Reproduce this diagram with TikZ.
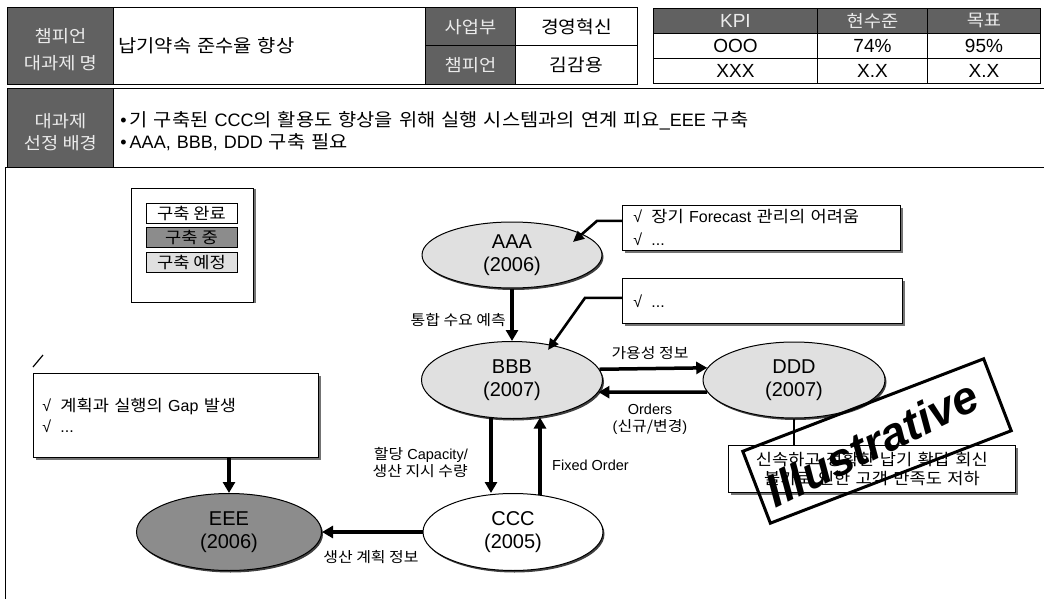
\documentclass[tikz,border=0pt]{standalone}
\usepackage{fontspec}
\setmainfont{Liberation Sans}
\newfontfamily\kr{Noto Sans CJK KR}[FakeStretch=1.1]
\usetikzlibrary{shapes.geometric,arrows.meta,shadows,calc}
\newcommand\K[1]{{\kr #1}}
\newcommand\chk{\makebox[18pt][l]{√}}
\newcommand\lowstrut{\rule{0pt}{22pt}}
\begin{document}
\begin{tikzpicture}[x=1pt,y=-1pt,
  hdr/.style={draw=black, line width=0.9pt, fill=black!62, text=white!92!black, align=center, inner sep=0pt, anchor=north west, font=\kr\fontsize{17}{26}\selectfont},
  cellw/.style={draw=black, line width=0.9pt, fill=white, align=center, inner sep=0pt, anchor=north west, font=\kr\fontsize{17.5}{22}\selectfont},
  kcell/.style={draw=black, line width=0.9pt, fill=white, align=center, inner sep=0pt, anchor=north west, minimum height=25pt, font=\fontsize{19}{20}\selectfont},
  ell/.style={ellipse, draw=black, line width=1pt, align=center, inner sep=0pt, font=\fontsize{20}{23}\selectfont,
    drop shadow={shadow xshift=1.5pt, shadow yshift=-2pt, fill=black!75, opacity=1}},
  note/.style={rectangle, draw=black, line width=0.8pt, fill=white, anchor=north west, align=left, inner ysep=1pt,
    font=\fontsize{16}{23}\selectfont,
    drop shadow={shadow xshift=2.5pt, shadow yshift=-2.5pt, fill=black!55, opacity=1}},
  legbox/.style={rectangle, draw=black, line width=0.8pt, minimum width=91pt, minimum height=20pt, inner sep=0pt, font=\kr\fontsize{16}{18}\selectfont},
  lbl/.style={inner sep=0pt, align=center, font=\fontsize{14.5}{17}\selectfont},
  big/.style={-{Triangle[length=11pt,width=12pt]}, line width=3.5pt},
  tarr/.style={-{Triangle[length=11pt,width=10pt]}, line width=2.6pt}
]
\useasboundingbox (0,0) rectangle (1044,599);
\fill[white] (0,0) rectangle (1044,599);

% ---------- row 1 ----------
\node[hdr, minimum width=106pt, minimum height=77pt, font=\kr\fontsize{17}{27}\selectfont] (champ) at (7,7) {\lowstrut 챔피언\\대과제 명};
\node[cellw, minimum width=312pt, minimum height=77pt, text width=302pt, align=left, inner xsep=5pt, font=\kr\fontsize{18}{22}\selectfont] (title) at (113,7) {납기약속 준수율 향상};
\node[hdr, minimum width=90pt, minimum height=38.5pt] (dept) at (425,7) {사업부};
\node[cellw, minimum width=122pt, minimum height=38.5pt] (deptv) at (515,7) {경영혁신};
\node[hdr, minimum width=90pt, minimum height=38.5pt] (chp) at (425,45.5) {챔피언};
\node[cellw, minimum width=122pt, minimum height=38.5pt] (chpv) at (515,45.5) {김감용};

% ---------- KPI table ----------
\node[hdr, minimum width=164pt, minimum height=25pt, font=\fontsize{19}{20}\selectfont] (kpi) at (653,8) {KPI};
\node[hdr, minimum width=110pt, minimum height=25pt] (cur) at (817,8) {현수준};
\node[hdr, minimum width=113pt, minimum height=25pt] (tgt) at (927,8) {목표};
\node[kcell, minimum width=164pt] (k11) at (653,33) {OOO};
\node[kcell, minimum width=110pt] (k12) at (817,33) {74\%};
\node[kcell, minimum width=113pt] (k13) at (927,33) {95\%};
\node[kcell, minimum width=164pt] (k21) at (653,58) {XXX};
\node[kcell, minimum width=110pt] (k22) at (817,58) {X.X};
\node[kcell, minimum width=113pt] (k23) at (927,58) {X.X};

% ---------- row 2 ----------
\node[hdr, minimum width=106pt, minimum height=79pt, font=\kr\fontsize{17}{22}\selectfont] (bgh) at (7,88) {\lowstrut 대과제\\선정 배경};
\node[draw=black, line width=0.9pt, anchor=north west, minimum width=940pt, minimum height=79pt, text width=926pt, inner xsep=2pt, align=left, font=\fontsize{18}{22}\selectfont] (bg) at (113,88)
 {\lowstrut•\,\K{기 구축된} CCC\K{의 활용도 향상을 위해 실행 시스템과의 연계 피요}\_EEE \K{구축}\\
  •\,AAA, BBB, DDD \K{구축 필요}};
\draw[line width=1pt] (5,167) -- (1050,167);
\draw[line width=1pt] (5,167) -- (5,605);

% ---------- legend ----------
\node[draw=black, line width=0.8pt, fill=white, anchor=north west, minimum width=122pt, minimum height=114pt,
  drop shadow={shadow xshift=2.5pt, shadow yshift=-1pt, fill=black!55, opacity=1}] (leg) at (131,188) {};
\node[legbox, fill=white] (lg1) at (191.5,213) {구축 완료};
\node[legbox, fill=black!45] (lg2) at (191.5,237.5) {구축 중};
\node[legbox, fill=black!12] (lg3) at (191.5,262.5) {구축 예정};

% ---------- ellipses ----------
\node[ell, fill=black!12, minimum width=180pt, minimum height=66pt] (AAA) at (512,255) {AAA\\(2006)};
\node[ell, fill=black!12, minimum width=181pt, minimum height=77pt] (BBB) at (512,380) {BBB\\(2007)};
\node[ell, fill=white, minimum width=180pt, minimum height=77pt] (CCC) at (513,532) {CCC\\(2005)};
\node[ell, fill=black!12, minimum width=182pt, minimum height=76pt] (DDD) at (794,380) {DDD\\(2007)};
\node[ell, fill=black!45, minimum width=185pt, minimum height=77pt] (EEE) at (229,532) {EEE\\(2006)};

% ---------- notes ----------
\node[note, minimum width=278pt, minimum height=45pt, text width=256pt, inner xsep=11pt] (n1) at (622,205)
 {\chk\K{장기} Forecast \K{관리의 어려움}\\\chk...};
\node[note, minimum width=280pt, minimum height=45pt, text width=258pt, inner xsep=11pt] (n2) at (622,278)
 {\chk...};
\node[note, minimum width=285pt, minimum height=84pt, text width=267pt, inner xsep=9pt, font=\fontsize{16}{21}\selectfont] (n3) at (33,373)
 {\chk\K{계획과 실행의} Gap \K{발생}\\\chk...};
\node[note, minimum width=287pt, minimum height=47pt, text width=281pt, inner xsep=3pt, align=center, font=\kr\fontsize{16}{19}\selectfont] (n4) at (728,445)
 {신속하고 정확한 납기 확답 회신\\불가로 인한 고객 만족도 저하};

% ---------- connectors ----------
\coordinate (xd) at (491,0);
\coordinate (xu) at (540,0);
\draw[big] (AAA) -- (BBB);
\node[lbl, anchor=east, font=\kr\fontsize{14.5}{17}\selectfont] (l1) at (506,320) {통합 수요 예측};
\draw[tarr] ([yshift=7pt]n1.west) -- ++(-25,0) -- ([shift={(61,-13)}]AAA.center);
\draw[tarr] ([yshift=3pt]n2.west) -- ++(-37,0) -- ([shift={(36,-30)}]BBB.center);
\draw[big] (BBB.7.5) -- (DDD.172.5);
\draw[big] (DDD.188.5) -- (BBB.-8.5);
\node[lbl, font=\kr\fontsize{14.5}{17}\selectfont] (l2) at (650,353) {가용성 정보};
\node[lbl] (l3) at (650,419) {Orders\\(\K{신규/변경})};
\draw[big] ([yshift=1.5pt]BBB.south -| xd) -- (CCC.north -| xd);
\draw[big] ([yshift=-2pt]CCC.north -| xu) -- ([yshift=1.5pt]BBB.south -| xu);
\node[lbl, anchor=east, align=right] (l4) at (468,463) {\K{할당} Capacity/\\\K{생산 지시 수량}};
\node[lbl, anchor=west] (l5) at (552,465) {Fixed Order};
\draw[big] (CCC) -- (EEE);
\node[lbl, font=\kr\fontsize{14.5}{17}\selectfont] (l6) at (371,557) {생산 계획 정보};
\draw[big] (n3.south -| EEE.north) -- (EEE.north);
\draw[line width=1.2pt] (33,367) -- (43,355);
\draw[line width=2pt] (DDD.south) -- (DDD.south |- n4.north);

% ---------- stamp ----------
\node[draw=black, line width=3pt, rotate=21, minimum width=258pt, minimum height=77pt, inner sep=0pt] (stamp) at (877,441) {};
\node[rotate=26, inner sep=0pt, font=\fontsize{46}{46}\selectfont\bfseries\itshape] (stampt) at (872,443) {Illustrative};
\end{tikzpicture}
\end{document}
